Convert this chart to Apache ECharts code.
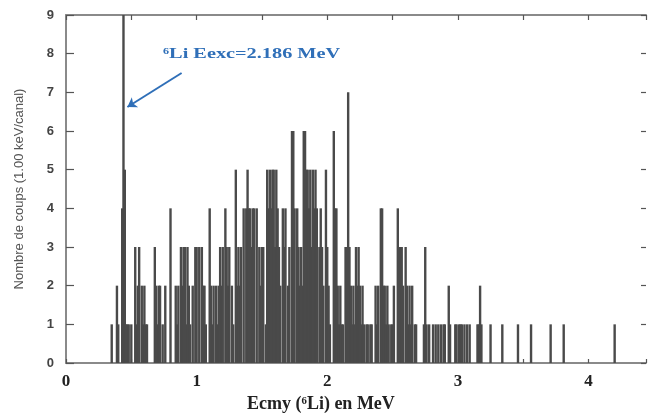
<!DOCTYPE html>
<html><head><meta charset="utf-8">
<script src="https://cdn.jsdelivr.net/npm/echarts@6/dist/echarts.min.js"></script>
<style>html,body{margin:0;padding:0;background:#fff}#c{width:649px;height:419px}</style>
</head><body><div id="c"></div>
<script>
// Channel energies (MeV) and counts per 10 keV channel (non-empty channels only)
const energies = [
  0.35,0.39,0.40,0.43,0.44,0.45,0.46,0.47,0.48,0.50,
  0.53,0.54,0.55,0.56,0.58,0.59,0.60,0.61,0.62,0.68,
  0.69,0.70,0.71,0.72,0.74,0.76,0.80,0.84,0.85,0.86,
  0.88,0.89,0.90,0.91,0.92,0.93,0.94,0.95,0.97,0.99,
  1.00,1.02,1.04,1.05,1.06,1.07,1.10,1.11,1.12,1.13,
  1.15,1.16,1.17,1.18,1.19,1.20,1.22,1.23,1.24,1.25,
  1.27,1.28,1.30,1.31,1.32,1.33,1.34,1.36,1.38,1.39,
  1.40,1.41,1.42,1.43,1.44,1.46,1.48,1.49,1.50,1.51,
  1.53,1.54,1.55,1.56,1.57,1.58,1.59,1.60,1.61,1.62,
  1.63,1.64,1.66,1.67,1.68,1.70,1.71,1.73,1.74,1.75,
  1.77,1.78,1.79,1.80,1.81,1.82,1.83,1.84,1.85,1.86,
  1.87,1.88,1.89,1.90,1.91,1.92,1.94,1.95,1.96,1.97,
  1.99,2.00,2.01,2.02,2.05,2.06,2.07,2.08,2.09,2.10,
  2.11,2.12,2.14,2.15,2.16,2.17,2.18,2.19,2.20,2.21,
  2.22,2.23,2.24,2.25,2.26,2.27,2.28,2.30,2.31,2.33,
  2.34,2.37,2.38,2.39,2.41,2.42,2.43,2.44,2.45,2.46,
  2.47,2.49,2.50,2.51,2.54,2.55,2.56,2.57,2.58,2.60,
  2.61,2.62,2.63,2.64,2.65,2.67,2.68,2.74,2.75,2.76,
  2.78,2.81,2.83,2.85,2.87,2.89,2.90,2.93,2.94,2.98,
  2.99,3.01,3.02,3.03,3.05,3.07,3.09,3.15,3.16,3.17,
  3.18,3.25,3.34,3.46,3.56,3.71,3.81,4.20
];
const counts = [
  1,2,1,4,9,5,1,1,1,1,
  3,1,2,3,2,1,2,1,1,3,
  2,1,2,2,1,2,4,2,1,2,
  3,2,3,3,1,3,2,1,2,3,
  3,3,3,2,2,1,4,2,1,2,
  2,1,2,3,2,3,4,3,2,3,
  2,1,5,2,3,2,3,4,4,5,
  4,4,3,4,4,4,3,2,3,3,
  1,5,4,5,4,5,5,3,5,4,
  3,2,4,3,4,2,3,6,6,4,
  4,3,2,3,2,6,6,5,5,4,
  5,3,5,4,5,4,3,4,3,2,
  5,3,2,1,6,4,4,2,1,2,
  1,1,3,3,7,3,2,1,2,1,
  3,2,3,2,1,2,1,1,1,1,
  1,2,1,2,4,4,2,2,1,2,
  1,1,1,2,4,3,3,3,2,3,
  2,1,2,1,2,1,1,1,3,1,
  1,1,1,1,1,1,1,2,1,1,
  1,1,1,1,1,1,1,1,1,2,
  1,1,1,1,1,1,1,1
];
const yTicks = [0,1,2,3,4,5,6,7,8,9];
const xLabels = [0,1,2,3,4];
const xTitle = 'Ecmy (⁶Li) en MeV';
const yTitle = 'Nombre de coups (1.00 keV/canal)';
const annotation = '⁶Li Eexc=2.186 MeV';
const arrowFrom = [0.885, 7.5];
const arrowTo = [0.47, 6.62];

const data = energies.map((e, i) => [e, counts[i]]);
const chart = echarts.init(document.getElementById('c'), null, {renderer: 'canvas'});
const axisLineStyle = {color: '#8a8a8a', width: 2};
const tickStyle = {color: '#555', width: 1.2};
chart.setOption({
  animation: false,
  backgroundColor: '#fff',
  grid: {left: 66, top: 15, width: 582, height: 348, containLabel: false},
  xAxis: [{
    type: 'value', min: 0, max: 4.44, interval: 0.5, position: 'bottom',
    axisLine: {show: true, onZero: false, lineStyle: axisLineStyle},
    axisTick: {show: true, inside: true, length: 4, lineStyle: tickStyle},
    splitLine: {show: false},
    axisLabel: {
      margin: 10, color: '#222', fontFamily: 'Liberation Serif', fontWeight: 'bold', fontSize: 17,
      formatter: v => (xLabels.indexOf(v) >= 0 ? String(v) : '')
    }
  }, {
    type: 'value', min: 0, max: 4.44, interval: 0.5, position: 'top',
    axisLine: {show: true, onZero: false, lineStyle: axisLineStyle},
    axisTick: {show: true, inside: true, length: 5, lineStyle: tickStyle},
    splitLine: {show: false}, axisLabel: {show: false}
  }],
  yAxis: [{
    type: 'value', min: yTicks[0], max: yTicks[yTicks.length - 1], interval: 1,
    axisLine: {show: true, onZero: false, lineStyle: axisLineStyle},
    axisTick: {show: true, inside: true, length: 8, lineStyle: tickStyle},
    splitLine: {show: false},
    axisLabel: {margin: 12, color: '#444', fontFamily: 'Liberation Sans', fontWeight: 'bold', fontSize: 13},
    name: yTitle, nameLocation: 'middle', nameGap: 40,
    nameTextStyle: {color: '#555', fontFamily: 'Liberation Sans', fontSize: 13}
  }, {
    type: 'value', min: yTicks[0], max: yTicks[yTicks.length - 1], interval: 1, position: 'right',
    axisLine: {show: false, onZero: false},
    axisTick: {show: true, inside: true, length: 5, lineStyle: tickStyle},
    splitLine: {show: false}, axisLabel: {show: false}
  }],
  graphic: [
    {type: 'text', left: 247, top: 395, style: {text: xTitle, fill: '#222', font: 'bold 18px "Liberation Serif"'}},
    {type: 'text', x: 163, y: 47, scaleX: 1.45, style: {text: annotation, fill: '#2f6fb8', font: 'bold 14px "Liberation Serif"'}}
  ],
  series: [{
    type: 'bar', xAxisIndex: 0, yAxisIndex: 0,
    data: data, barWidth: 2.4, barGap: '-100%',
    itemStyle: {color: '#4a4a4a'},
    markLine: {
      silent: true, symbol: ['none', 'arrow'], symbolSize: 9,
      lineStyle: {color: '#2f6fb8', width: 2, type: 'solid'},
      label: {show: false},
      data: [[{coord: arrowFrom}, {coord: arrowTo}]]
    }
  }]
});
</script></body></html>
